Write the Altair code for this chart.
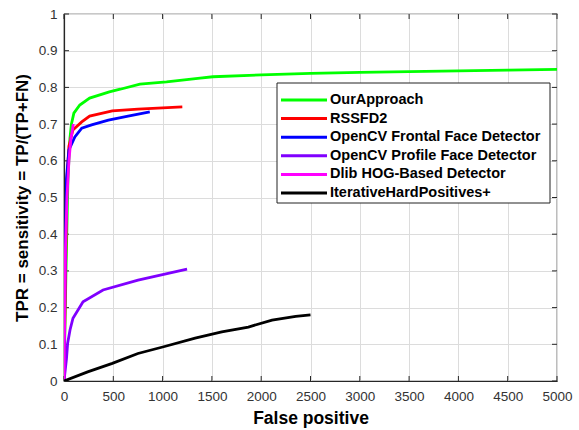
import altair as alt
import pandas as pd

names = ["OurApproach", "RSSFD2", "OpenCV Frontal Face Detector",
         "OpenCV Profile Face Detector", "Dlib HOG-Based Detector",
         "IterativeHardPositives+"]
colors = ["#00ff00", "#ff0000", "#0000ff", "#8000ff", "#ff00ff", "#000000"]

green_x = [0, 20, 40, 60, 75, 100, 160, 260, 460, 570, 770, 1040, 1380, 1510, 2000, 2500, 3000, 3500, 4000, 4500, 5000]
green_y = [0, 0.30, 0.55, 0.66, 0.70, 0.73, 0.752, 0.771, 0.788, 0.795, 0.809, 0.815, 0.825, 0.829, 0.834, 0.838, 0.841, 0.843, 0.845, 0.847, 0.849]
red_x = [0, 15, 30, 50, 90, 180, 260, 490, 750, 1200]
red_y = [0, 0.30, 0.55, 0.64, 0.684, 0.706, 0.722, 0.736, 0.741, 0.747]
blue_x = [0, 10, 25, 50, 110, 180, 280, 450, 650, 870]
blue_y = [0, 0.30, 0.55, 0.63, 0.665, 0.689, 0.698, 0.711, 0.722, 0.733]
purple_x = [0, 25, 37, 61, 91, 193, 396, 751, 1248]
purple_y = [0, 0.06, 0.103, 0.139, 0.171, 0.216, 0.248, 0.275, 0.305]
magenta_x = [0, 8, 15, 30, 50, 70, 95]
magenta_y = [0, 0.20, 0.36, 0.50, 0.60, 0.66, 0.70]
black_x = [0, 240, 490, 750, 1020, 1330, 1600, 1870, 2110, 2350, 2500]
black_y = [0, 0.025, 0.048, 0.075, 0.094, 0.117, 0.134, 0.147, 0.166, 0.176, 0.180]

x_ticks = [0, 500, 1000, 1500, 2000, 2500, 3000, 3500, 4000, 4500, 5000]
y_ticks = [0, 0.1, 0.2, 0.3, 0.4, 0.5, 0.6, 0.7, 0.8, 0.9, 1]

series = [(green_x, green_y), (red_x, red_y), (blue_x, blue_y),
          (purple_x, purple_y), (magenta_x, magenta_y), (black_x, black_y)]
rows = []
for name, (xs, ys) in zip(names, series):
    for i, (a, b) in enumerate(zip(xs, ys)):
        rows.append({"fp": a, "tpr": b, "method": name, "i": i})
df = pd.DataFrame(rows)

W, H = 493, 367
FONT = "Liberation Sans"
AX = "#262626"

xscale = alt.Scale(domain=[0, 5000], nice=False, zero=False)
yscale = alt.Scale(domain=[0, 1], nice=False, zero=False)
cscale = alt.Scale(domain=names, range=colors)

xaxis = alt.Axis(values=x_ticks, format="d", title="False positive", tickSize=0,
                 labelPadding=8, titlePadding=7, titleFontSize=17.5, labelFontSize=13.5,
                 labelFlush=False, labelOverlap=False,
                 grid=True, gridColor="#dcdcdc", domainColor=AX, domainWidth=1.2,
                 labelColor="#333333", titleColor="#000000", titleFontWeight="bold",
                 labelFont=FONT, titleFont=FONT)
yaxis = alt.Axis(values=y_ticks, format="~g", title="TPR = sensitivity = TP/(TP+FN)",
                 tickSize=0, labelPadding=7, titlePadding=7, titleFontSize=17,
                 labelFontSize=13.5, labelFlush=False, labelOverlap=False,
                 grid=True, gridColor="#dcdcdc", domainColor=AX,
                 domainWidth=1.2, labelColor="#333333", titleColor="#000000",
                 titleFontWeight="bold", labelFont=FONT, titleFont=FONT)

line_layers = []
for name in names:
    line_layers.append(
        alt.Chart(df).transform_filter(alt.datum.method == name)
        .mark_line(strokeWidth=2.8, clip=True)
        .encode(
            x=alt.X("fp:Q", scale=xscale, axis=xaxis),
            y=alt.Y("tpr:Q", scale=yscale, axis=yaxis),
            color=alt.Color("method:N", scale=cscale, legend=None),
            order="i:Q",
        )
    )

xt = pd.DataFrame({"fp": x_ticks})
yt = pd.DataFrame({"tpr": y_ticks})
tick_layers = [
    alt.Chart(xt).mark_rule(color=AX, strokeWidth=1).encode(
        x=alt.X("fp:Q", scale=xscale, axis=xaxis), y=alt.value(H), y2=alt.value(H - 5)),
    alt.Chart(xt).mark_rule(color=AX, strokeWidth=1).encode(
        x=alt.X("fp:Q", scale=xscale, axis=xaxis), y=alt.value(0), y2=alt.value(5)),
    alt.Chart(yt).mark_rule(color=AX, strokeWidth=1).encode(
        y=alt.Y("tpr:Q", scale=yscale, axis=yaxis), x=alt.value(0), x2=alt.value(5)),
    alt.Chart(yt).mark_rule(color=AX, strokeWidth=1).encode(
        y=alt.Y("tpr:Q", scale=yscale, axis=yaxis), x=alt.value(W), x2=alt.value(W - 5)),
]

main = alt.layer(*(tick_layers + line_layers))

# legend drawn inside the plot (MATLAB style box)
legend_df = pd.DataFrame({"method": names, "k": list(range(len(names)))})
row_scale = alt.Scale(domain=[0, len(names) - 1], range=[86, 179])
box = alt.Chart(legend_df).transform_filter(alt.datum.k == 0).mark_rect(
    fill="white", stroke="#222222", strokeWidth=1).encode(
    x=alt.value(213), x2=alt.value(486), y=alt.value(69), y2=alt.value(189))
leg_lines = alt.Chart(legend_df).mark_rule(strokeWidth=3).encode(
    x=alt.value(217), x2=alt.value(263),
    y=alt.Y("k:Q", scale=row_scale, axis=None),
    color=alt.Color("method:N", scale=cscale, legend=None))
leg_text = alt.Chart(legend_df).mark_text(
    align="left", baseline="middle", font=FONT, fontWeight="bold",
    fontSize=14.5, color="#000000").encode(
    x=alt.value(266),
    y=alt.Y("k:Q", scale=row_scale, axis=None),
    text="method:N")
leg = alt.layer(box, leg_lines, leg_text)

chart = alt.layer(main, leg).resolve_scale(y="independent").properties(
    width=W, height=H,
    autosize=alt.AutoSizeParams(type="none"),
    padding={"left": 64, "top": 14, "right": 22, "bottom": 49},
    background="white",
).configure_view(stroke=AX, strokeWidth=1.2)

chart.save("out.html", embed_options={"renderer": "svg", "actions": False})
